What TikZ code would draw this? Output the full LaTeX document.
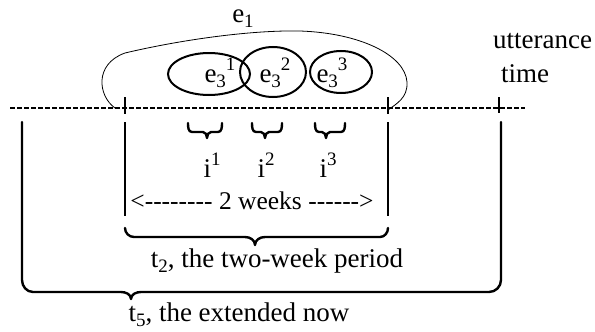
\documentclass[tikz,border=0pt]{standalone}
\usepackage{fontspec}
\setmainfont{Liberation Serif}
\newcommand\hy{-\kern0pt}
\newcommand\sbs[1]{\raisebox{-0.22em}{\fontsize{19}{20}\selectfont #1}}
\newcommand\sps[1]{\raisebox{0.42em}{\fontsize{19}{20}\selectfont #1}}
\tikzset{
  lbl/.style={inner sep=0pt, font=\fontsize{27}{30}\selectfont},
  thinc/.style={line width=0.8pt},
  bar/.style={line width=2pt},
  brk/.style={line width=2.4pt, line cap=round, line join=round},
  blob/.style={line width=2pt},
  timeline/.style={line width=1.6pt, dash pattern=on 5pt off 2pt},
}
\begin{document}
\begin{tikzpicture}[x=1pt,y=-1pt]
\useasboundingbox (0,0) rectangle (595,332);
% timeline
\coordinate (tlA) at (10,108);
\coordinate (tlB) at (525,108);
\draw[timeline] (tlA) -- (tlB);
% ticks
\draw[bar] (125,97) -- (125,114);
\draw[bar] (388,97) -- (388,114);
\draw[bar] (499,97) -- (499,113);
% e1 outline
\draw[thinc] (115,108) .. controls (98,96) and (94,64) .. (125,53)
  .. controls (180,40) and (250,30) .. (300,31)
  .. controls (360,33) and (405,55) .. (407,82)
  .. controls (408,98) and (396,104) .. (388,110);
\node[lbl, anchor=base] (e1) at (243,22) {e\sbs{1}};
% e3 blobs
\draw[blob] (209,74) ellipse [x radius=41, y radius=21];
\draw[blob] (273,72) ellipse [x radius=33, y radius=25];
\draw[blob] (341,72) ellipse [x radius=31, y radius=21];
\node[lbl, anchor=base] (ea) at (220,82) {e\sbs{3}\sps{1}};
\node[lbl, anchor=base] (eb) at (275,82) {e\sbs{3}\sps{2}};
\node[lbl, anchor=base] (ec) at (332,82) {e\sbs{3}\sps{3}};
% utterance time
\node[lbl, anchor=base west] (ut) at (493,48) {utterance};
\node[lbl, anchor=base west] (tm) at (501,82) {time};
% small braces
\foreach \l/\t/\r in {188/207/222, 252/265/282, 315/326/345}{
  \draw[brk] (\l,123) to[out=-90,in=180] (\l+4,132) -- (\t-4,132)
    to[out=0,in=90] (\t,138) to[out=90,in=180] (\t+4,132) -- (\r-4,132)
    to[out=0,in=-90] (\r,123);
}
\node[lbl, anchor=base] (i1) at (212,177) {i\sps{1}};
\node[lbl, anchor=base] (i2) at (266,177) {i\sps{2}};
\node[lbl, anchor=base] (i3) at (328,177) {i\sps{3}};
% vertical bars
\draw[bar] (125,122) -- (125,216);
\draw[bar] (388,122) -- (388,216);
% 2 weeks
\node[lbl, anchor=base, font=\fontsize{25.5}{30}\selectfont] (wk) at (252,209) {<\hy\hy\hy\hy\hy\hy\hy\hy{} 2 weeks \hy\hy\hy\hy\hy\hy>};
% t2 bracket
\draw[brk] (125,228) to[out=-90,in=180] (134,237) -- (245,237)
  to[out=0,in=90] (255,245) to[out=90,in=180] (265,237) -- (380,237)
  to[out=0,in=-90] (388,228);
\node[lbl, anchor=base] (t2) at (277,267) {t\sbs{2}, the two-week period};
% t5 bracket
\draw[brk] (22,122) -- (22,280) to[out=-90,in=180] (33,292) -- (121,292)
  to[out=0,in=90] (131,299) to[out=90,in=180] (141,292) -- (489,292)
  to[out=0,in=-90] (501,280) -- (501,122);
\node[lbl, anchor=base] (t5) at (239,321) {t\sbs{5}, the extended now};
\end{tikzpicture}
\end{document}
